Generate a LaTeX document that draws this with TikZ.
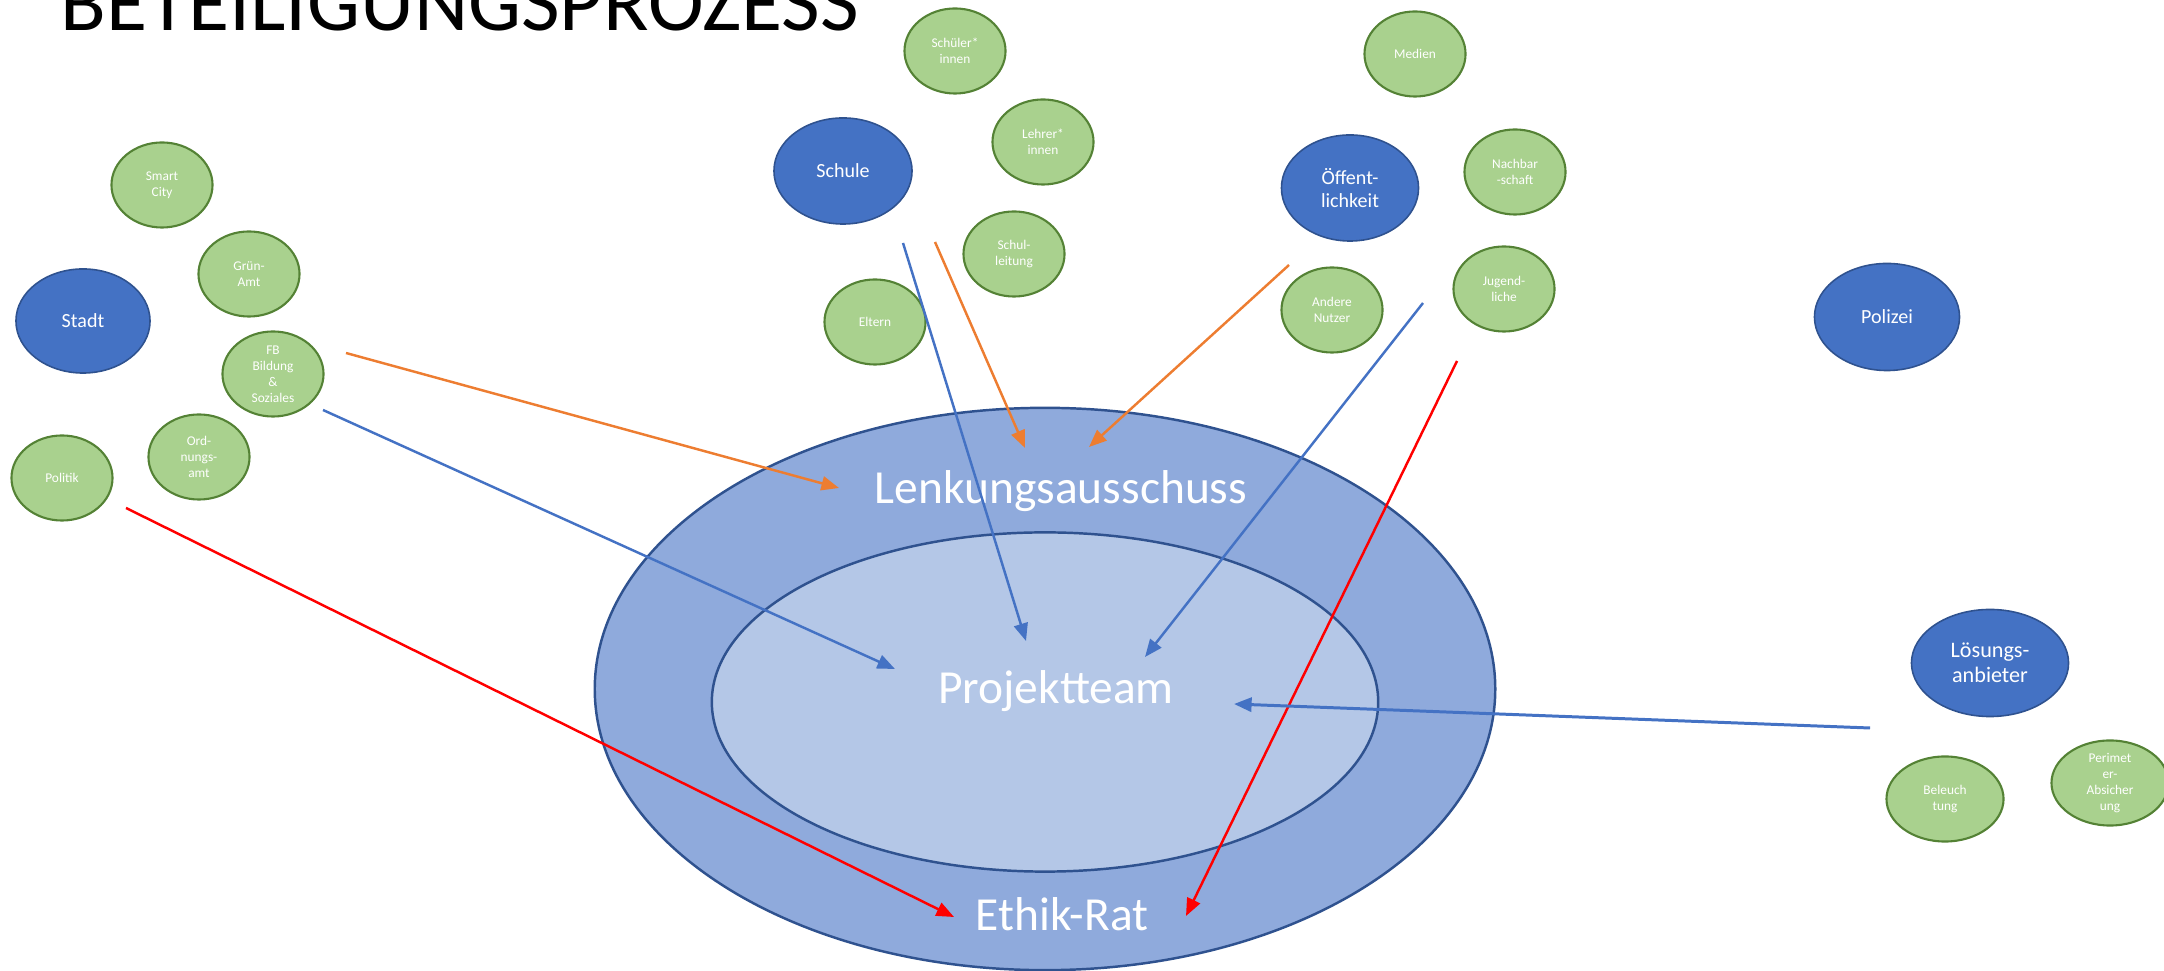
\documentclass[tikz,border=0pt]{standalone}
\usepackage{fontspec}
\setmainfont{Carlito}
\usetikzlibrary{shapes.geometric,arrows.meta}

\definecolor{bluemid}{HTML}{4472C4}
\definecolor{bluedark}{HTML}{2F528F}
\definecolor{ringout}{HTML}{8FAADC}
\definecolor{ringin}{HTML}{B4C7E7}
\definecolor{greenlight}{HTML}{A9D18E}
\definecolor{greendark}{HTML}{548235}
\definecolor{pfeilorange}{HTML}{ED7D31}
\definecolor{pfeilrot}{HTML}{FF0000}

\begin{document}
\begin{tikzpicture}[x=0.01cm, y=-0.01cm,
  akteur/.style={ellipse, draw=bluedark, fill=bluemid, line width=0.45pt, text=white, align=center, inner sep=0pt,
    minimum width=1.38cm, minimum height=1.06cm, font=\fontsize{5.7pt}{6.7pt}\selectfont},
  gruppe/.style={ellipse, draw=greendark, fill=greenlight, line width=0.6pt, text=white, align=center, inner sep=0pt,
    minimum width=1.01cm, minimum height=0.85cm, font=\fontsize{3.8pt}{4.55pt}\selectfont},
  ring/.style={ellipse, draw=bluedark, line width=0.7pt, inner sep=0pt},
  gremium/.style={text=white, anchor=base, inner sep=0pt, font=\fontsize{13.5pt}{16pt}\selectfont},
  pfeil/.style={line width=0.7pt, -{Triangle[length=5pt,width=4pt]}}]
\useasboundingbox (0,0) rectangle (2164,971);

% title
\node[anchor=base west, inner sep=0pt, font=\fontsize{23.9pt}{28pt}\selectfont] (titel) at (60,31) {BETEILIGUNGSPROZESS};

% rings
\node[ring, fill=ringout, minimum width=9cm, minimum height=5.62cm] (aussen) at (1045,689) {};
\node[ring, fill=ringin, minimum width=6.66cm, minimum height=3.39cm] (innen) at (1045,702) {};
\node[gremium] (lenkung) at (1061,504) {Lenkungsausschuss};
\node[gremium] (team) at (1056,704) {Projektteam};
\node[gremium] (ethik) at (1062,931) {Ethik-Rat};

% Stadt
\node[akteur, minimum width=1.34cm, minimum height=1.04cm] (stadt) at (83,321) {Stadt};
\node[gruppe] (smartcity) at (162,185) {Smart\\City};
\node[gruppe] (gruenamt) at (249,274) {Grün-\\Amt};
\node[gruppe] (fbbildung) at (273,374) {FB\\Bildung\\\&\\Soziales};
\node[gruppe] (ordnung) at (199,457) {Ord-\\nungs-\\amt};
\node[gruppe] (politik) at (62,478) {Politik};

% Schule
\node[akteur] (schule) at (843,171) {Schule};
\node[gruppe] (schueler) at (955,51) {Schüler*\\innen};
\node[gruppe] (lehrer) at (1043,142) {Lehrer*\\innen};
\node[gruppe] (schulleitung) at (1014,254) {Schul-\\leitung};
\node[gruppe] (eltern) at (875,322) {Eltern};

% Oeffentlichkeit
\node[akteur, minimum width=1.37cm] (oeffentlichkeit) at (1350,188) {Öffent-\\lichkeit};
\node[gruppe] (medien) at (1415,54) {Medien};
\node[gruppe] (nachbarschaft) at (1515,172) {Nachbar\\-schaft};
\node[gruppe] (nutzer) at (1332,310) {Andere\\Nutzer};
\node[gruppe] (jugend) at (1504,289) {Jugend-\\liche};

% Polizei, Loesungsanbieter
\node[akteur, minimum width=1.45cm, minimum height=1.07cm] (polizei) at (1887,317) {Polizei};
\node[akteur, minimum width=1.57cm, minimum height=1.07cm, font=\fontsize{6.3pt}{7.2pt}\selectfont] (loesung) at (1990,663) {Lösungs-\\anbieter};
\node[gruppe, minimum width=1.17cm] (beleuchtung) at (1945,799) {Beleuch\\tung};
\node[gruppe, minimum width=1.17cm] (perimeter) at (2110,783) {Perimet\\er-\\Absicher\\ung};

% arrow ends
\coordinate (stadtO) at (346,353);
\coordinate (stadtB) at (323,410);
\coordinate (stadtR) at (126,508);
\coordinate (schuleB) at (903,243);
\coordinate (schuleO) at (935,242);
\coordinate (oeffO) at (1289,265);
\coordinate (oeffB) at (1423,303);
\coordinate (jugendR) at (1457,361);
\coordinate (loesB) at (1870,728);
\coordinate (lenkungL) at (839,488);
\coordinate (lenkungT) at (1025,448);
\coordinate (lenkungR) at (1089,447);
\coordinate (teamL) at (895,669);
\coordinate (teamT) at (1026,641);
\coordinate (teamR) at (1145,657);
\coordinate (teamE) at (1234,704);
\coordinate (ethikL) at (954,917);
\coordinate (ethikR) at (1186,916);

\draw[pfeil, pfeilorange] (stadtO) -- (lenkungL);
\draw[pfeil, bluemid] (stadtB) -- (teamL);
\draw[pfeil, pfeilrot] (stadtR) -- (ethikL);
\draw[pfeil, bluemid] (schuleB) -- (teamT);
\draw[pfeil, pfeilorange] (schuleO) -- (lenkungT);
\draw[pfeil, pfeilorange] (oeffO) -- (lenkungR);
\draw[pfeil, bluemid] (oeffB) -- (teamR);
\draw[pfeil, pfeilrot] (jugendR) -- (ethikR);
\draw[pfeil, bluemid, line width=0.85pt] (loesB) -- (teamE);
\end{tikzpicture}
\end{document}
